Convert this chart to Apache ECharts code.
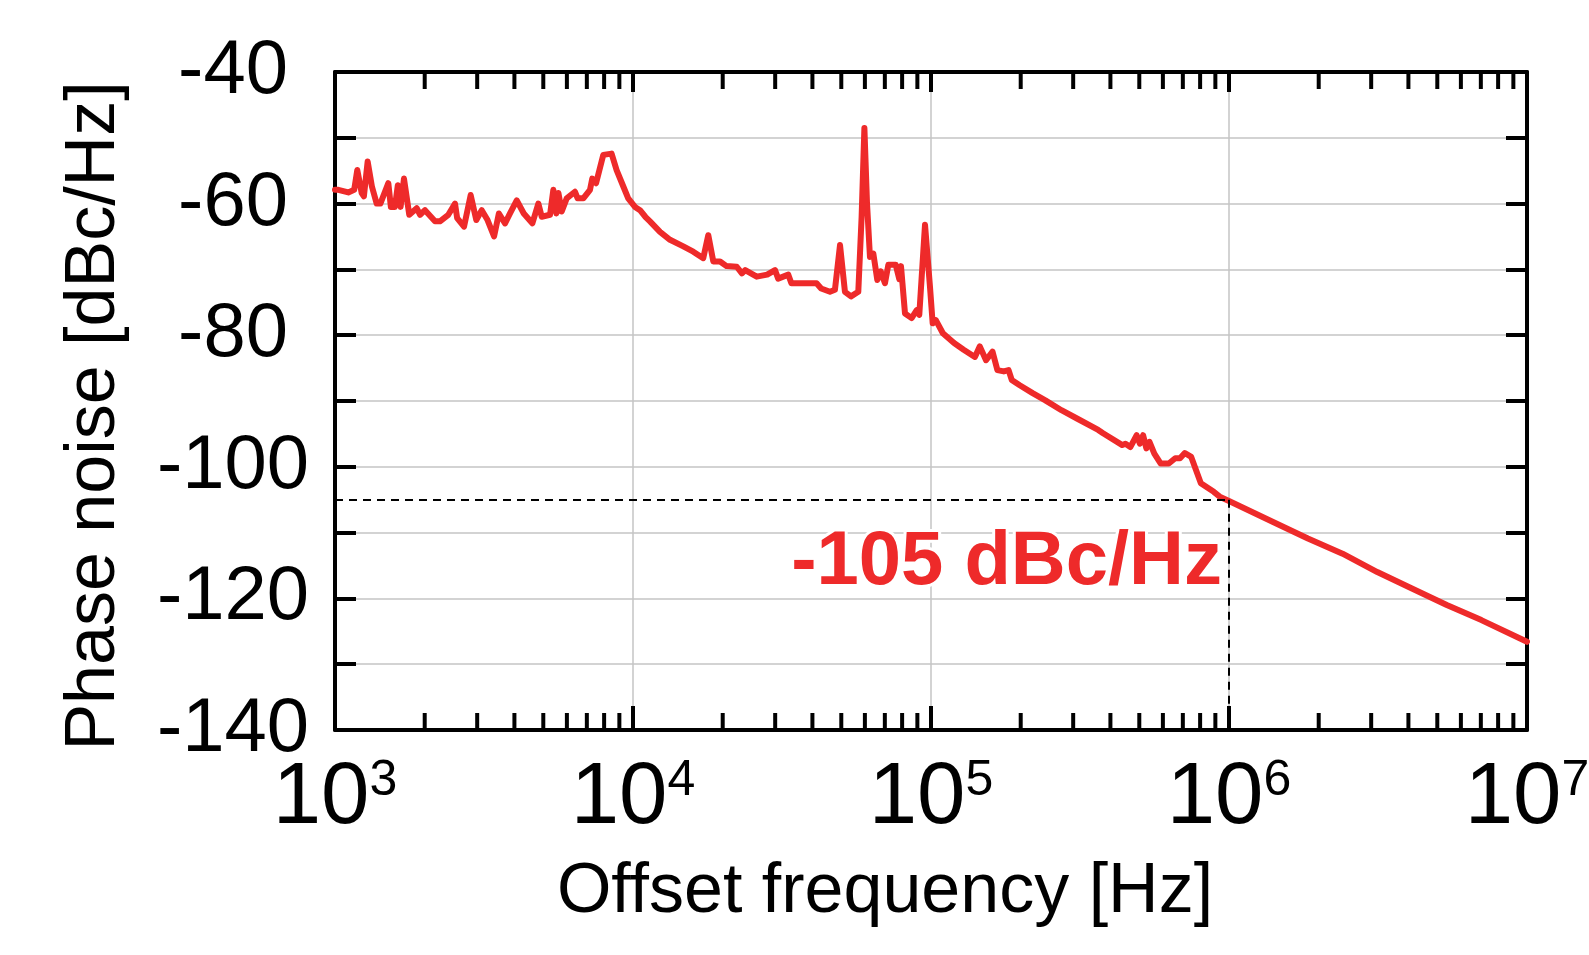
<!DOCTYPE html>
<html><head><meta charset="utf-8">
<script src="https://cdn.jsdelivr.net/npm/echarts@6/dist/echarts.min.js"></script>
<style>html,body{margin:0;padding:0;background:#fff}#c{width:1589px;height:955px}</style>
</head><body><div id="c"></div>
<script>
// ---- data ----
const freqHz = [1000,1026,1108,1160,1188,1229,1250,1287,1305,1330,1380,1420,1510,1540,1589,1625,1660,1704,1775,1880,1930,2004,2166,2250,2400,2528,2570,2710,2853,2980,3107,3250,3418,3548,3720,3866,4073,4300,4595,4812,4940,5267,5403,5530,5620,5765,5991,6385,6520,6812,7174,7300,7516,7946,8475,8810,9280,9637,10155,10556,11000,11400,12320,13310,14750,15930,17210,17890,18600,19590,20600,22290,23200,23800,26010,28200,29960,30700,33200,34000,37280,41300,42800,45810,47600,49510,51430,53900,57020,58500,59770,61000,62400,64050,66050,67800,70070,71920,76130,78300,79300,81800,86100,89540,91350,95480,99200,101300,103800,109600,119500,128700,140400,145800,153000,160900,167000,175500,182100,186600,198500,219300,242000,274000,310000,364000,377900,438500,449300,466500,490000,502300,515000,528000,541000,561600,590000,628000,660000,684800,710700,746900,804500,889000,935000,1000000,1406000,1840000,2405000,3145000,4110000,5380000,7030000,10000000];
const noiseDbc = [-57.9,-57.9,-58.3,-57.9,-54.9,-58.4,-58.9,-53.6,-53.6,-57.4,-60.0,-60.0,-56.9,-60.5,-60.5,-57.2,-60.5,-56.2,-61.7,-60.7,-61.7,-61.0,-62.7,-62.7,-61.7,-60.0,-62.2,-63.5,-58.7,-62.5,-61.0,-62.5,-65.0,-61.5,-63.0,-61.5,-59.5,-61.5,-63.0,-60.0,-62.0,-61.7,-57.9,-61.5,-58.4,-61.2,-59.2,-58.2,-59.2,-59.2,-57.9,-56.2,-56.9,-52.6,-52.4,-54.9,-57.4,-59.2,-60.5,-61.0,-62.0,-62.7,-64.3,-65.5,-66.5,-67.3,-68.3,-64.8,-68.8,-68.8,-69.5,-69.6,-70.6,-70.1,-71.1,-70.8,-70.1,-71.4,-70.8,-72.1,-72.1,-72.1,-72.9,-73.4,-73.1,-66.3,-73.4,-74.1,-73.4,-62.0,-48.5,-60.0,-68.1,-67.6,-71.6,-70.3,-72.1,-69.3,-69.3,-71.5,-69.5,-76.7,-77.4,-76.2,-76.9,-63.2,-72.6,-78.2,-77.7,-79.7,-81.2,-82.2,-83.3,-81.7,-83.8,-82.5,-85.3,-85.5,-85.3,-86.8,-87.6,-88.8,-89.9,-91.4,-92.7,-94.4,-94.9,-96.7,-96.5,-97.0,-95.2,-96.5,-95.2,-97.2,-96.2,-98.0,-99.5,-99.5,-98.7,-98.7,-97.9,-98.5,-102.5,-103.8,-104.6,-105.2,-108.4,-110.9,-113.2,-116.0,-118.5,-121.0,-123.3,-126.6];
const yLabelValues = [-40,-60,-80,-100,-120,-140];
const decadeExponents = [3,4,5,6];
const minorMultipliers = [2,3,4,5,6,7,8,9];
const refFreq = 1e6;
const refLevel = -105;
const refLabel = '-105 dBc/Hz';
const xTitle = 'Offset frequency [Hz]';
const yTitle = 'Phase noise [dBc/Hz]';

const FONT = '"Liberation Sans", Arial, sans-serif';
const RED = '#ee2a2a';
const pairs = freqHz.map((f, i) => [f, noiseDbc[i]]);
const minorTicks = [];
decadeExponents.forEach(e => minorMultipliers.forEach(m => minorTicks.push([m * Math.pow(10, e), -140])));

const chart = echarts.init(document.getElementById('c'), null, {renderer: 'canvas'});
const xCommon = {
  type: 'log', logBase: 10, min: 1e3, max: 1e7,
  axisLine: {show: true, onZero: false, lineStyle: {color: '#000', width: 4}},
  axisTick: {show: true, inside: true, length: 24, lineStyle: {color: '#000', width: 4}},
  minorTick: {show: false}
};
const yCommon = {
  type: 'value', min: -140, max: -40, interval: 10,
  axisLine: {show: true, lineStyle: {color: '#000', width: 4}},
  axisTick: {show: true, inside: true, length: 21, lineStyle: {color: '#000', width: 4}}
};
chart.setOption({
  animation: false,
  backgroundColor: '#fff',
  grid: {left: 335, top: 72, width: 1192, height: 658, containLabel: false, outerBoundsMode: 'none'},
  xAxis: [
    Object.assign({}, xCommon, {
      position: 'bottom',
      splitLine: {show: true, lineStyle: {color: '#c4c4c4', width: 1.5}},
      axisLabel: {
        show: true, margin: 26, color: '#000', fontFamily: FONT,
        formatter: v => '{b|10}{s|' + Math.round(Math.log10(v)) + '}',
        rich: {
          b: {fontSize: 87, fontFamily: FONT, color: '#000', lineHeight: 86},
          s: {fontSize: 50, fontFamily: FONT, color: '#000', lineHeight: 50, verticalAlign: 'top'}
        }
      },
      name: xTitle, nameLocation: 'middle', nameGap: 128,
      nameTextStyle: {fontSize: 70, fontFamily: FONT, color: '#000', padding: [0, 92, 0, 0]}
    }),
    Object.assign({}, xCommon, {
      position: 'top', axisTick: {show: true, inside: true, length: 20, lineStyle: {color: '#000', width: 4}},
      axisLabel: {show: false}, splitLine: {show: false}
    })
  ],
  yAxis: [
    Object.assign({}, yCommon, {
      position: 'left',
      splitLine: {show: true, lineStyle: {color: '#c4c4c4', width: 1.5}},
      axisLabel: {
        show: true, margin: 102, align: 'center', color: '#000', fontSize: 76, fontFamily: FONT,
        formatter: v => yLabelValues.indexOf(v) >= 0 ? String(v) : ''
      },
      name: yTitle, nameLocation: 'middle', nameGap: 205, nameRotate: 90,
      nameTextStyle: {fontSize: 70, fontFamily: FONT, color: '#000', padding: [0, 30, 0, 0]}
    }),
    Object.assign({}, yCommon, {
      position: 'right', axisLabel: {show: false}, splitLine: {show: false}
    })
  ],
  series: [
    {
      type: 'custom', xAxisIndex: 0, yAxisIndex: 0, silent: true, clip: false, z: 5,
      data: minorTicks,
      renderItem: function (params, api) {
        const b = api.coord([api.value(0), -140]);
        const t = api.coord([api.value(0), -40]);
        const st = {stroke: '#000', lineWidth: 4};
        return {type: 'group', children: [
          {type: 'line', shape: {x1: b[0], y1: b[1], x2: b[0], y2: b[1] - 17}, style: st},
          {type: 'line', shape: {x1: t[0], y1: t[1], x2: t[0], y2: t[1] + 17}, style: st}
        ]};
      }
    },
    {
      type: 'line', xAxisIndex: 0, yAxisIndex: 0, data: pairs, showSymbol: false, symbol: 'none',
      smooth: false, clip: false, z: 3,
      lineStyle: {color: RED, width: 6, join: 'round', cap: 'round'},
      markLine: {
        silent: true, symbol: 'none', animation: false,
        lineStyle: {color: '#000', type: [8, 6], width: 2},
        label: {show: false},
        data: [
          [{coord: [1e3, refLevel]}, {coord: [refFreq, refLevel]}],
          [{coord: [refFreq, refLevel]}, {coord: [refFreq, -140]}]
        ]
      },
      markPoint: {
        silent: true, symbol: 'circle', symbolSize: 0, animation: false,
        data: [{coord: [refFreq, -114.6], value: refLabel}],
        label: {
          show: true, position: 'left', distance: 7, formatter: refLabel,
          color: RED, fontSize: 76, fontWeight: 'bold', fontFamily: FONT,
          textBorderColor: '#fff', textBorderWidth: 6
        }
      }
    }
  ]
});
</script>
</body></html>
